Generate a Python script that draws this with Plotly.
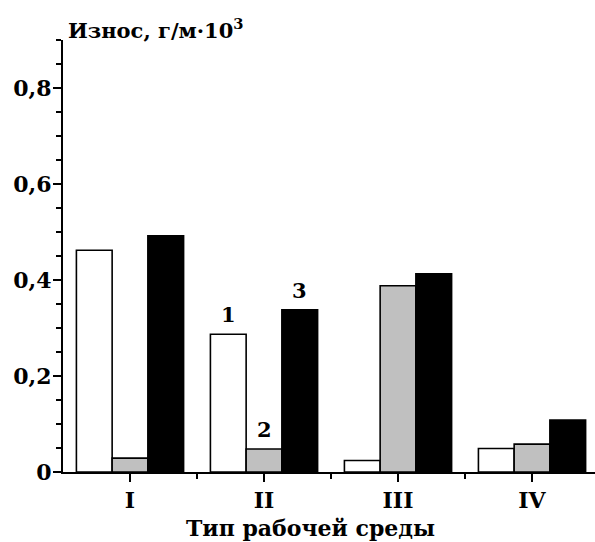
import plotly.graph_objects as go

categories = ["I", "II", "III", "IV"]
series1 = [0.462, 0.287, 0.024, 0.049]   # white
series2 = [0.029, 0.048, 0.388, 0.058]   # gray
series3 = [0.492, 0.338, 0.413, 0.108]   # black
series_names = ["1", "2", "3"]
y_tickvals = [0, 0.2, 0.4, 0.6, 0.8]
y_ticktext = ["0", "0,2", "0,4", "0,6", "0,8"]

FONT = "DejaVu Serif"
xs = list(range(len(categories)))
colors = ["#ffffff", "#c0c0c0", "#000000"]

fig = go.Figure()
for name, vals, col in zip(series_names, [series1, series2, series3], colors):
    fig.add_trace(go.Bar(x=xs, y=vals, name=name,
                         marker=dict(color=col, line=dict(color="black", width=1.6))))

bar_w = 0.8 / 3
offsets = [-bar_w, 0, bar_w]
allv = [series1, series2, series3]
for i, name in enumerate(series_names):
    fig.add_annotation(x=1 + offsets[i], y=allv[i][1], text=name, showarrow=False,
                       xref="x", yref="y", yanchor="bottom", yshift=5,
                       font=dict(family=FONT, size=21, color="black", weight="bold"))

fig.add_annotation(x=0, y=1, xref="paper", yref="paper", xanchor="left", yanchor="bottom",
                   xshift=3, yshift=-5, showarrow=False,
                   text="Износ, г/м·10<sup>3</sup>",
                   font=dict(family=FONT, size=21, color="black", weight="bold"))
fig.add_annotation(x=0.466, y=0, xref="paper", yref="paper", xanchor="center", yanchor="top",
                   yshift=-41, showarrow=False,
                   text="Тип рабочей среды",
                   font=dict(family=FONT, size=22, color="black", weight="bold"))

fig.update_layout(
    width=595, height=542,
    margin=dict(l=63, r=0, t=40, b=70),
    paper_bgcolor="white", plot_bgcolor="white",
    showlegend=False, bargap=0.2, bargroupgap=0,
    xaxis=dict(range=[-0.5, 3.47], tickmode="array", tickvals=xs, ticktext=categories,
               automargin=False,
               showline=True, linecolor="black", linewidth=2, ticks="outside", ticklen=8,
               tickwidth=2, tickcolor="black", showgrid=False, zeroline=False,
               ticklabelstandoff=0,
               tickfont=dict(family=FONT, size=22, color="black", weight="bold"),
               minor=dict(tickmode="array", tickvals=[0.5, 1.5, 2.5], ticks="outside",
                          ticklen=5, tickwidth=2, tickcolor="black", showgrid=False)),
    yaxis=dict(range=[0, 0.9], tickmode="array", tickvals=y_tickvals, ticktext=y_ticktext,
               automargin=False,
               showline=True, linecolor="black", linewidth=2, ticks="outside", ticklen=8,
               tickwidth=2, tickcolor="black", showgrid=False, zeroline=False,
               ticklabelstandoff=-3,
               tickfont=dict(family=FONT, size=22, color="black", weight="bold"),
               minor=dict(tickmode="array", tickvals=[i * 0.05 for i in range(19)], ticks="outside",
                          ticklen=5, tickwidth=2, tickcolor="black", showgrid=False)),
)

fig.write_html("out.html", config={"displayModeBar": False},
               post_script="document.body.style.margin='0';document.body.style.overflow='hidden';")
